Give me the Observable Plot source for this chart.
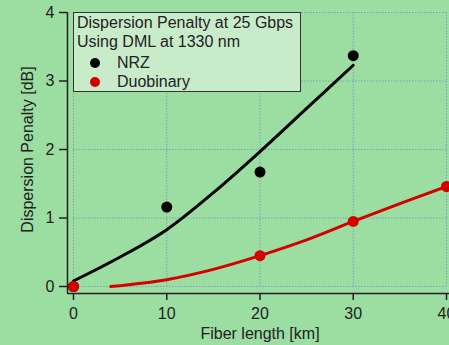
<!DOCTYPE html>
<html>
<head>
<meta charset="utf-8">
<script src="https://cdn.jsdelivr.net/npm/d3@7"></script>
<script src="https://cdn.jsdelivr.net/npm/@observablehq/plot@0.6"></script>
<style>
  html, body { margin: 0; padding: 0; background: #9cdda2; }
  #wrap { position: relative; width: 449px; height: 345px; font-family: "Liberation Sans", Arial, sans-serif; }
  #legend {
    position: absolute; left: 73px; top: 12px; width: 226px; height: 78px;
    background: #c8ecca; border: 1.5px solid #333; box-sizing: content-box;
    font-size: 16px; color: #222; line-height: 18.5px; padding: 0;
  }
  #legend .t { padding-left: 3px; position: relative; top: 1px; }
  #legend .row { position: relative; top: 3px; padding-left: 43px; line-height: 19px; }
  #legend .dot { position: absolute; left: 16px; top: 4.5px; width: 10px; height: 10px; border-radius: 50%; }
</style>
</head>
<body>
<div id="wrap"></div>
<script>
// Measured points
const nrzKm = [0, 10, 20, 30];
const nrzPenalty = [0, 1.16, 1.67, 3.37];
const duoKm = [0, 20, 30, 40];
const duoPenalty = [0, 0.45, 0.95, 1.46];
// Fitted curves
const nrzFitKm = [0, 5, 10, 15, 20, 25, 30];
const nrzFitPenalty = [0.08, 0.43, 0.83, 1.37, 1.97, 2.6, 3.23];
const duoFitKm = [4, 10, 15, 20, 25, 30, 35, 40];
const duoFitPenalty = [0.0, 0.1, 0.25, 0.45, 0.68, 0.95, 1.21, 1.46];
// Axis ticks
const xTicks = [0, 10, 20, 30, 40];
const yTicks = [0, 1, 2, 3, 4];
const seriesNames = ["NRZ", "Duobinary"];
const seriesColors = ["#000000", "#d40000"];
const legendTitle = ["Dispersion Penalty at 25 Gbps", "Using DML at 1330 nm"];

const nrz = nrzKm.map((k, i) => ({km: k, p: nrzPenalty[i]}));
const duo = duoKm.map((k, i) => ({km: k, p: duoPenalty[i]}));
const nrzFit = nrzFitKm.map((k, i) => ({km: k, p: nrzFitPenalty[i]}));
const duoFit = duoFitKm.map((k, i) => ({km: k, p: duoFitPenalty[i]}));

const gridStyle = {stroke: "#7396c8", strokeOpacity: 0.85, strokeWidth: 1, strokeDasharray: "1.5,1.5"};

const chart = Plot.plot({
  width: 449,
  height: 345,
  marginLeft: 73,
  marginRight: 3,
  marginTop: 12,
  marginBottom: 59,
  style: {background: "transparent", fontFamily: "'Liberation Sans', Arial, sans-serif", fontSize: "16px", color: "#222"},
  x: {domain: [0, 40]},
  y: {domain: [0, 4]},
  marks: [
    Plot.gridX(xTicks, gridStyle),
    Plot.gridY(yTicks, gridStyle),
    Plot.ruleX([0], {dx: -6, insetBottom: -7, stroke: "#222", strokeWidth: 1.5}),
    Plot.ruleY([0], {dy: 7, insetLeft: -6, insetRight: -3, stroke: "#222", strokeWidth: 1.5}),
    Plot.axisX(xTicks, {tickSize: 7, dy: 7, tickPadding: 7, stroke: "#222", strokeWidth: 1.5,
      tickFormat: d => String(d),
      label: "Fiber length [km]", labelAnchor: "center", labelArrow: "none", labelOffset: 52}),
    Plot.axisY(yTicks, {tickSize: 8, dx: -6, tickPadding: 5, stroke: "#222", strokeWidth: 1.5,
      tickFormat: d => String(d),
      label: "Dispersion Penalty [dB]", labelAnchor: "center", labelArrow: "none", labelOffset: 52}),
    Plot.line(nrzFit, {x: "km", y: "p", stroke: seriesColors[0], strokeWidth: 3, curve: "catmull-rom"}),
    Plot.line(duoFit, {x: "km", y: "p", stroke: seriesColors[1], strokeWidth: 3, curve: "catmull-rom"}),
    Plot.dot(nrz, {x: "km", y: "p", r: 5.5, fill: seriesColors[0]}),
    Plot.dot(duo, {x: "km", y: "p", r: 5.5, fill: seriesColors[1]})
  ]
});

const wrap = document.getElementById("wrap");
wrap.appendChild(chart);

const legend = document.createElement("div");
legend.id = "legend";
legend.innerHTML =
  legendTitle.map(t => `<div class="t">${t}</div>`).join("") +
  seriesNames.map((n, i) => `<div class="row"><span class="dot" style="background:${seriesColors[i]}"></span>${n}</div>`).join("");
wrap.appendChild(legend);
</script>
</body>
</html>
